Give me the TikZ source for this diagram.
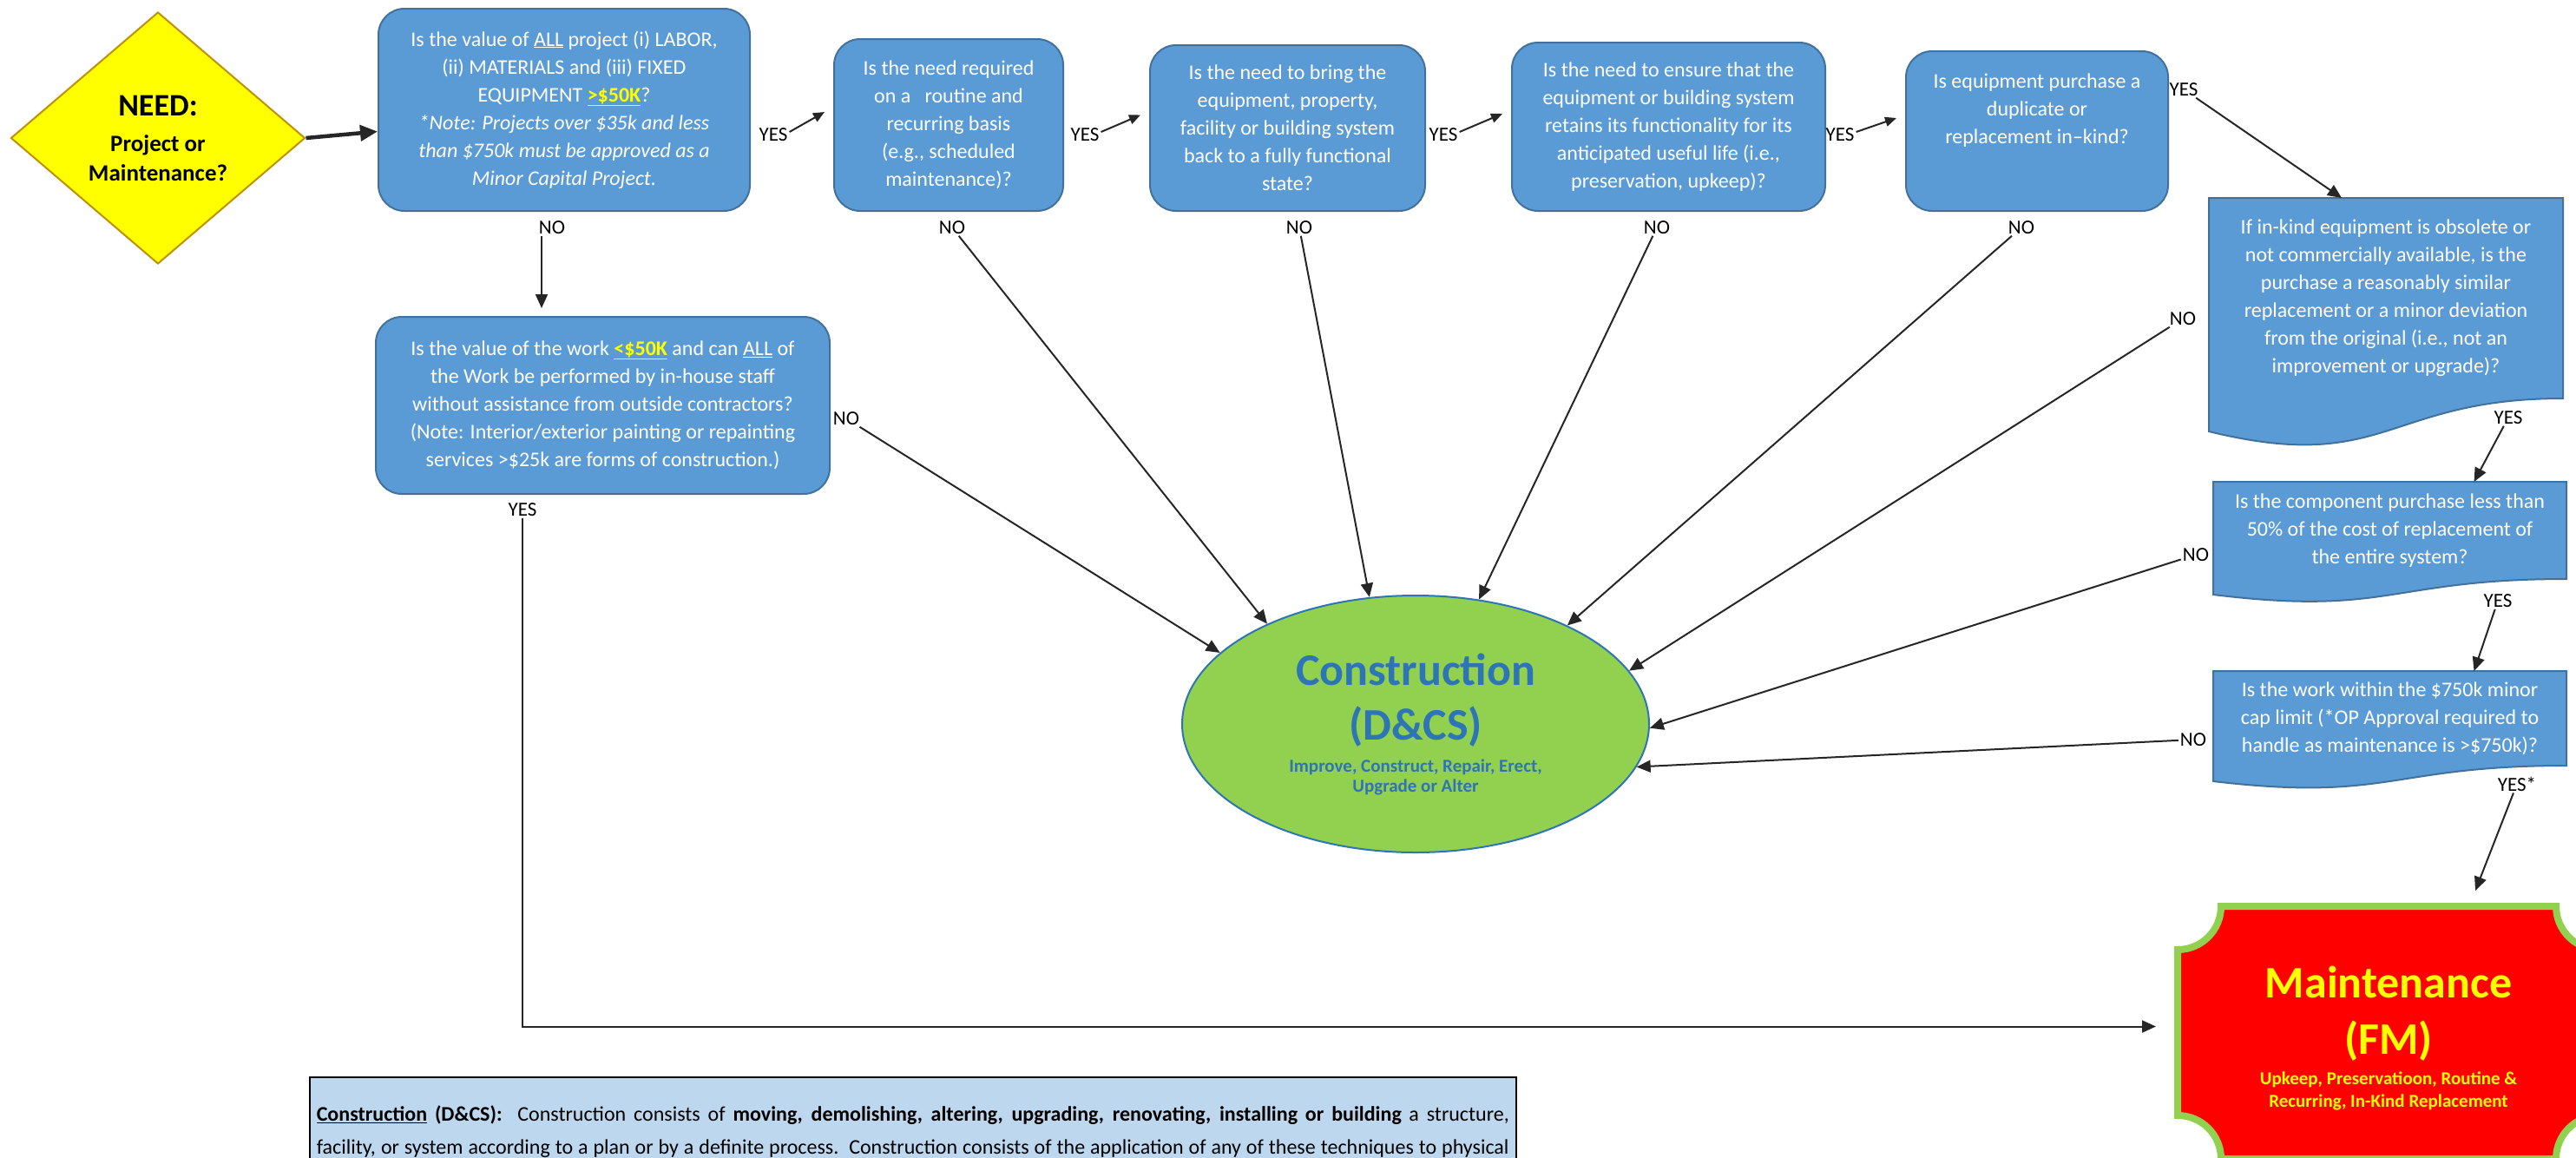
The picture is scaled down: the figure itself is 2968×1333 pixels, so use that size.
\documentclass[tikz,border=0pt]{standalone}
\usepackage{fontspec}
\setmainfont{Carlito}
\usetikzlibrary{arrows.meta, positioning, shapes.geometric}

\pgfdeclarelayer{background}
\pgfsetlayers{background,main}

\definecolor{qblue}{HTML}{5B9BD5}
\definecolor{qedge}{HTML}{41719C}
\definecolor{needyellow}{HTML}{FFFF00}
\definecolor{neededge}{HTML}{BF9000}
\definecolor{consgreen}{HTML}{92D050}
\definecolor{consblue}{HTML}{2E75B6}
\definecolor{mntred}{HTML}{FF0000}
\definecolor{notefill}{HTML}{BDD7EE}
\definecolor{linegray}{HTML}{262626}

% wavy bottom under a question box: node, control drop, end drop
\newcommand{\docwave}[3]{%
  \begin{pgfonlayer}{background}
    \draw[docline] (#1.north west) -- (#1.north east) -- (#1.south east)
      .. controls (#1.south) and ([yshift=-#2pt]#1.south) .. ([yshift=-#3pt]#1.south west) -- cycle;
  \end{pgfonlayer}}

% frame with scooped corners: node, radius
\newcommand{\notchframe}[2]{%
  \begin{pgfonlayer}{background}
    \draw[mntline] ([xshift=#2pt]#1.north west) -- ([xshift=-#2pt]#1.north east)
      arc[start angle=180, end angle=270, radius=#2pt] -- ([yshift=#2pt]#1.south east)
      arc[start angle=90, end angle=180, radius=#2pt] -- ([xshift=#2pt]#1.south west)
      arc[start angle=0, end angle=90, radius=#2pt] -- ([yshift=-#2pt]#1.north west)
      arc[start angle=270, end angle=360, radius=#2pt] -- cycle;
  \end{pgfonlayer}}

\begin{document}
\begin{tikzpicture}[x=1pt, y=-1pt,
    qbox/.style={rectangle, rounded corners=30pt, draw=qedge, line width=2pt, fill=qblue,
      text=white, align=center, inner sep=0pt, font=\fontsize{24}{32}\selectfont},
    docbox/.style={rectangle, text=white, align=center, inner sep=0pt, outer sep=0pt,
      font=\fontsize{24}{32}\selectfont},
    docline/.style={draw=qedge, line width=2pt, fill=qblue},
    needbox/.style={diamond, draw=neededge, line width=2pt, fill=needyellow, inner sep=0pt,
      minimum width=339pt, minimum height=290pt, align=center,
      font=\bfseries\fontsize{27}{34}\selectfont},
    consbox/.style={ellipse, draw=consblue, line width=2pt, fill=consgreen, text=consblue,
      minimum width=538pt, minimum height=296pt, align=center, inner sep=0pt,
      font=\bfseries\fontsize{21}{23}\selectfont},
    mntbox/.style={rectangle, outer sep=0pt, inner sep=0pt, text=needyellow, align=center,
      minimum width=486pt, minimum height=291pt, font=\bfseries\fontsize{21}{26}\selectfont},
    mntline/.style={draw=consgreen, line width=8pt, fill=mntred},
    notebox/.style={draw=black, line width=1.5pt, fill=notefill, anchor=north west,
      inner xsep=8pt, inner ysep=33pt, align=left, text depth=95pt,
      font=\fontsize{24}{38}\selectfont},
    lbl/.style={inner sep=2pt, font=\fontsize{23}{28}\selectfont},
    arr/.style={draw=linegray, line width=2pt, -{Triangle[length=16pt, width=14pt]}},
    sarr/.style={draw=linegray, line width=2pt, -{Triangle[length=13pt, width=11pt]}},
    bigarr/.style={draw=linegray, line width=4.5pt, -{Triangle[length=20pt, width=18pt]}}]

    \useasboundingbox (0,0) rectangle (2968,1333);

    \node[needbox] (need) at (182,159) {{\fontsize{36}{40}\selectfont NEED:}\rule[-9pt]{0pt}{9pt}\\
        Project or\rule{0pt}{31pt}\\ Maintenance?};

    \node[qbox, minimum width=428pt, minimum height=233pt] (q1) at (650,126.5)
        {Is the value of \underline{ALL} project (i) LABOR,\\
         (ii) MATERIALS and (iii) FIXED\\
         EQUIPMENT \textcolor{needyellow}{\textbf{\underline{>\$50K}}}?\\
         \textit{*Note: Projects over \$35k and less}\\
         \textit{than \$750k must be approved as a}\\
         \textit{Minor Capital Project.}};
    \node[qbox, minimum width=264pt, minimum height=198pt, right=95pt of q1.south east, anchor=south west] (q2)
        {Is the need required\\ on a\ \ \ routine and\\ recurring basis\\ (e.g., scheduled\\ maintenance)?};
    \node[qbox, minimum width=317pt, minimum height=191pt, right=98pt of q2.south east, anchor=south west] (q3)
        {Is the need to bring the\\ equipment, property,\\ facility or building system\\
         back to a fully functional\\ state?};
    \node[qbox, minimum width=361pt, minimum height=194pt, right=98pt of q3.south east, anchor=south west] (q4)
        {Is the need to ensure that the\\ equipment or building system\\
         retains its functionality for its\\ anticipated useful life (i.e.,\\ preservation, upkeep)?};
    \node[qbox, minimum width=302pt, minimum height=184pt, right=91pt of q4.south east, anchor=south west] (q5)
        {Is equipment purchase a\\ duplicate or\\ replacement in–kind?\\[20pt]\mbox{}};

    \node[qbox, minimum width=523pt, minimum height=204pt] (q9) at (694.5,467)
        {Is the value of the work \textcolor{needyellow}{\textbf{\underline{<\$50K}}} and can \underline{ALL} of\\
         the Work be performed by in-house staff\\
         without assistance from outside contractors?\\
         (Note: Interior/exterior painting or repainting\\
         services >\$25k are forms of construction.)};

    \node[docbox, minimum width=408pt, minimum height=231pt] (q6) at (2749,343.5)
        {If in-kind equipment is obsolete or\\ not commercially available, is the\\
         purchase a reasonably similar\\ replacement or a minor deviation\\
         from the original (i.e., not an\\ improvement or upgrade)?};
    \node[docbox, minimum width=407pt, minimum height=112pt] (q7) at (2753.5,611)
        {Is the component purchase less than\\ 50\% of the cost of replacement of\\ the entire system?};
    \node[docbox, minimum width=407pt, minimum height=109pt] (q8) at (2753.5,827.5)
        {Is the work within the \$750k minor\\ cap limit (*OP Approval required to\\
         handle as maintenance is >\$750k)?};
    \docwave{q6}{88}{38}
    \docwave{q7}{43}{18}
    \docwave{q8}{42}{18}

    \node[consbox] (cons) at (1631,834)
        {{\fontsize{52}{60}\selectfont Construction}\rule[-12pt]{0pt}{12pt}\\
         {\fontsize{52}{60}\selectfont (D\&CS)}\rule[-14pt]{0pt}{64pt}\\
         Improve, Construct, Repair, Erect,\rule{0pt}{22pt}\\ Upgrade or Alter};

    \node[mntbox] (mnt) at (2752,1189.5)
        {{\fontsize{52}{60}\selectfont Maintenance}\rule[-13pt]{0pt}{62pt}\\
         {\fontsize{52}{60}\selectfont (FM)}\rule[-14pt]{0pt}{65pt}\\
         Upkeep, Preservatioon, Routine \&\rule{0pt}{20pt}\\ Recurring, In-Kind Replacement};
    \notchframe{mnt}{50}

    \node[notebox] (note) at (356,1240)
        {\makebox[1374pt][s]{\underline{\textbf{Construction}} \textbf{(D\&CS):}\ \ Construction consists of
         \textbf{moving, demolishing, altering, upgrading, renovating, installing or building} a structure,}\\
         \makebox[1374pt][s]{facility, or system according to a plan or by a definite process.\ \ Construction
         consists of the application of any of these techniques to physical}};

    % yes / no labels
    \node[lbl] (yes1) at (891,155) {YES};
    \node[lbl] (yes2) at (1250,155) {YES};
    \node[lbl] (yes3) at (1663,155) {YES};
    \node[lbl] (yes4) at (2120,155) {YES};
    \node[lbl] (yes5) at (2516,103) {YES};
    \node[lbl] (ys6) at (2890,481) {YES};
    \node[lbl] (ys7) at (2878,692) {YES};
    \node[lbl] (ys8) at (2900,903) {YES*};
    \node[lbl] (yes9) at (602,587) {YES};
    \node[lbl] (no1) at (636,262) {NO};
    \node[lbl] (no2) at (1097,262) {NO};
    \node[lbl] (no3) at (1497,262) {NO};
    \node[lbl] (no4) at (1909,262) {NO};
    \node[lbl] (no5) at (2329,262) {NO};
    \node[lbl] (no6) at (2515,367) {NO};
    \node[lbl] (no7) at (2530,639) {NO};
    \node[lbl] (no8) at (2527,852) {NO};
    \node[lbl] (no9) at (975,482) {NO};

    \draw[bigarr] (need.east) -- ([yshift=-25pt]q1.west);
    \foreach \y/\q in {yes1/q2, yes2/q3, yes3/q4, yes4/q5}
        \draw[sarr] ([yshift=3pt]\y.east) -- ([xshift=-10pt, yshift=15pt]\q.west);
    \draw[arr] (yes5) -- ([xshift=153pt]q6.north west);
    \draw[arr] (ys6) -- ([xshift=97pt]q7.north);
    \draw[arr] (ys7) -- ([xshift=97pt]q8.north);
    \draw[arr] (ys8) -- ([xshift=100pt, yshift=18pt]mnt.north);

    \coordinate (no1x) at ([xshift=-12pt]no1.south);
    \draw[arr, shorten >=9pt] (no1x) -- (no1x |- q9.north);
    \foreach \n/\a in {no9/160, no2/146, no3/110, no4/63, no5/33, no6/14, no7/-1, no8/-11}
        \draw[arr] (\n) -- (cons.\a);
    \draw[arr] (yes9) |- ([xshift=-25pt, yshift=7pt]mnt.west);
\end{tikzpicture}
\end{document}
